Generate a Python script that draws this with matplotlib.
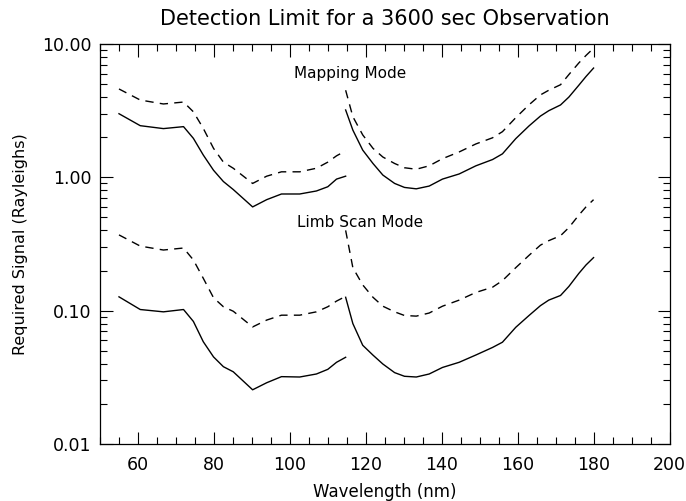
import numpy as np
import matplotlib
matplotlib.use("Agg")
import matplotlib.pyplot as plt
from matplotlib.ticker import FixedLocator, MultipleLocator, LogLocator, NullFormatter

# --- data ---
# left branch (55-115 nm)
wl_left = [55, 60.6, 66.7, 72, 74.6, 77.2, 79.9, 82.5, 85.1, 90.2, 93.9, 97.8, 102.6, 107, 110, 112.3, 114.7]
map_solid_left = [3.0, 2.44, 2.32, 2.40, 1.96, 1.47, 1.13, 0.93, 0.81, 0.60, 0.68, 0.75, 0.75, 0.79, 0.85, 0.97, 1.02]
map_dash_left = [4.6, 3.8, 3.55, 3.67, 3.1, 2.33, 1.65, 1.30, 1.17, 0.90, 1.02, 1.10, 1.10, 1.17, 1.30, 1.45, 1.58]
limb_solid_left = [0.127, 0.102, 0.098, 0.102, 0.083, 0.0585, 0.045, 0.038, 0.0348, 0.0255, 0.0288, 0.032, 0.0318, 0.0335, 0.0363, 0.041, 0.0447]
limb_dash_left = [0.37, 0.305, 0.285, 0.295, 0.24, 0.175, 0.125, 0.107, 0.099, 0.0755, 0.085, 0.0925, 0.0925, 0.098, 0.107, 0.118, 0.128]

# right branch (115-180 nm)
wl_right = [114.7, 116.6, 119.2, 121.9, 124.5, 127.6, 130.2, 133.3, 136.7, 140.2, 144.6, 149, 153.4, 156,
            159.5, 163, 166, 168.2, 171.3, 173.5, 176.1, 178, 180]
map_solid_right = [3.2, 2.26, 1.60, 1.27, 1.04, 0.90, 0.84, 0.82, 0.86, 0.97, 1.06, 1.22, 1.36, 1.50,
                   1.95, 2.43, 2.88, 3.16, 3.49, 4.0, 4.9, 5.7, 6.6]
map_dash_right = [4.5, 2.85, 2.08, 1.65, 1.42, 1.27, 1.18, 1.15, 1.22, 1.38, 1.55, 1.78, 1.98, 2.2,
                  2.8, 3.5, 4.15, 4.5, 4.95, 5.9, 7.2, 8.2, 9.3]
limb_solid_right = [0.126, 0.08, 0.055, 0.0464, 0.0398, 0.0343, 0.0322, 0.0318, 0.0335, 0.0375, 0.041, 0.0465, 0.053, 0.058,
                    0.075, 0.092, 0.109, 0.12, 0.13, 0.152, 0.19, 0.22, 0.25]
limb_dash_right = [0.40, 0.21, 0.156, 0.126, 0.108, 0.098, 0.092, 0.091, 0.096, 0.108, 0.12, 0.137, 0.15, 0.168,
                   0.21, 0.26, 0.31, 0.335, 0.365, 0.42, 0.52, 0.60, 0.68]

x_ticks = [60, 80, 100, 120, 140, 160, 180, 200]
y_ticks = [0.01, 0.1, 1.0, 10.0]
y_labels = ["0.01", "0.10", "1.00", "10.00"]

fig = plt.figure(figsize=(6.86, 5.01), dpi=100)
ax = fig.add_axes([100/686, 57/501, 569.5/686, 400/501])

dash = (0, (6, 4.5))
lw = 1.0
ax.plot(wl_left, map_solid_left, color="black", lw=lw)
ax.plot(wl_left, map_dash_left, color="black", lw=lw, linestyle=dash)
ax.plot(wl_left, limb_solid_left, color="black", lw=lw)
ax.plot(wl_left, limb_dash_left, color="black", lw=lw, linestyle=dash)
ax.plot(wl_right, map_solid_right, color="black", lw=lw)
ax.plot(wl_right, map_dash_right, color="black", lw=lw, linestyle=dash)
ax.plot(wl_right, limb_solid_right, color="black", lw=lw)
ax.plot(wl_right, limb_dash_right, color="black", lw=lw, linestyle=dash)

ax.set_yscale("log")
ax.set_xlim(50, 200)
ax.set_ylim(0.01, 10)

ax.xaxis.set_major_locator(FixedLocator(x_ticks))
ax.xaxis.set_minor_locator(MultipleLocator(5))
ax.set_yticks(y_ticks)
ax.set_yticklabels(y_labels)
ax.yaxis.set_minor_locator(LogLocator(base=10, subs=np.arange(2, 10)))
ax.yaxis.set_minor_formatter(NullFormatter())

ax.tick_params(which="both", direction="in", top=True, right=True, width=0.8, colors="black")
ax.tick_params(which="major", length=9, labelsize=12.5, pad=6)
ax.tick_params(axis="x", which="major", pad=9)
ax.tick_params(which="minor", length=5)
for s in ax.spines.values():
    s.set_linewidth(0.9)

ax.set_title("Detection Limit for a 3600 sec Observation", fontsize=15, pad=14)
ax.set_xlabel("Wavelength (nm)", fontsize=12, labelpad=6)
ax.set_ylabel("Required Signal (Rayleighs)", fontsize=11.5, labelpad=10)

ax.text(116, 6.0, "Mapping Mode", fontsize=11, ha="center", va="center")
ax.text(118.6, 0.455, "Limb Scan Mode", fontsize=11, ha="center", va="center")

fig.savefig("out.png", dpi=100)
